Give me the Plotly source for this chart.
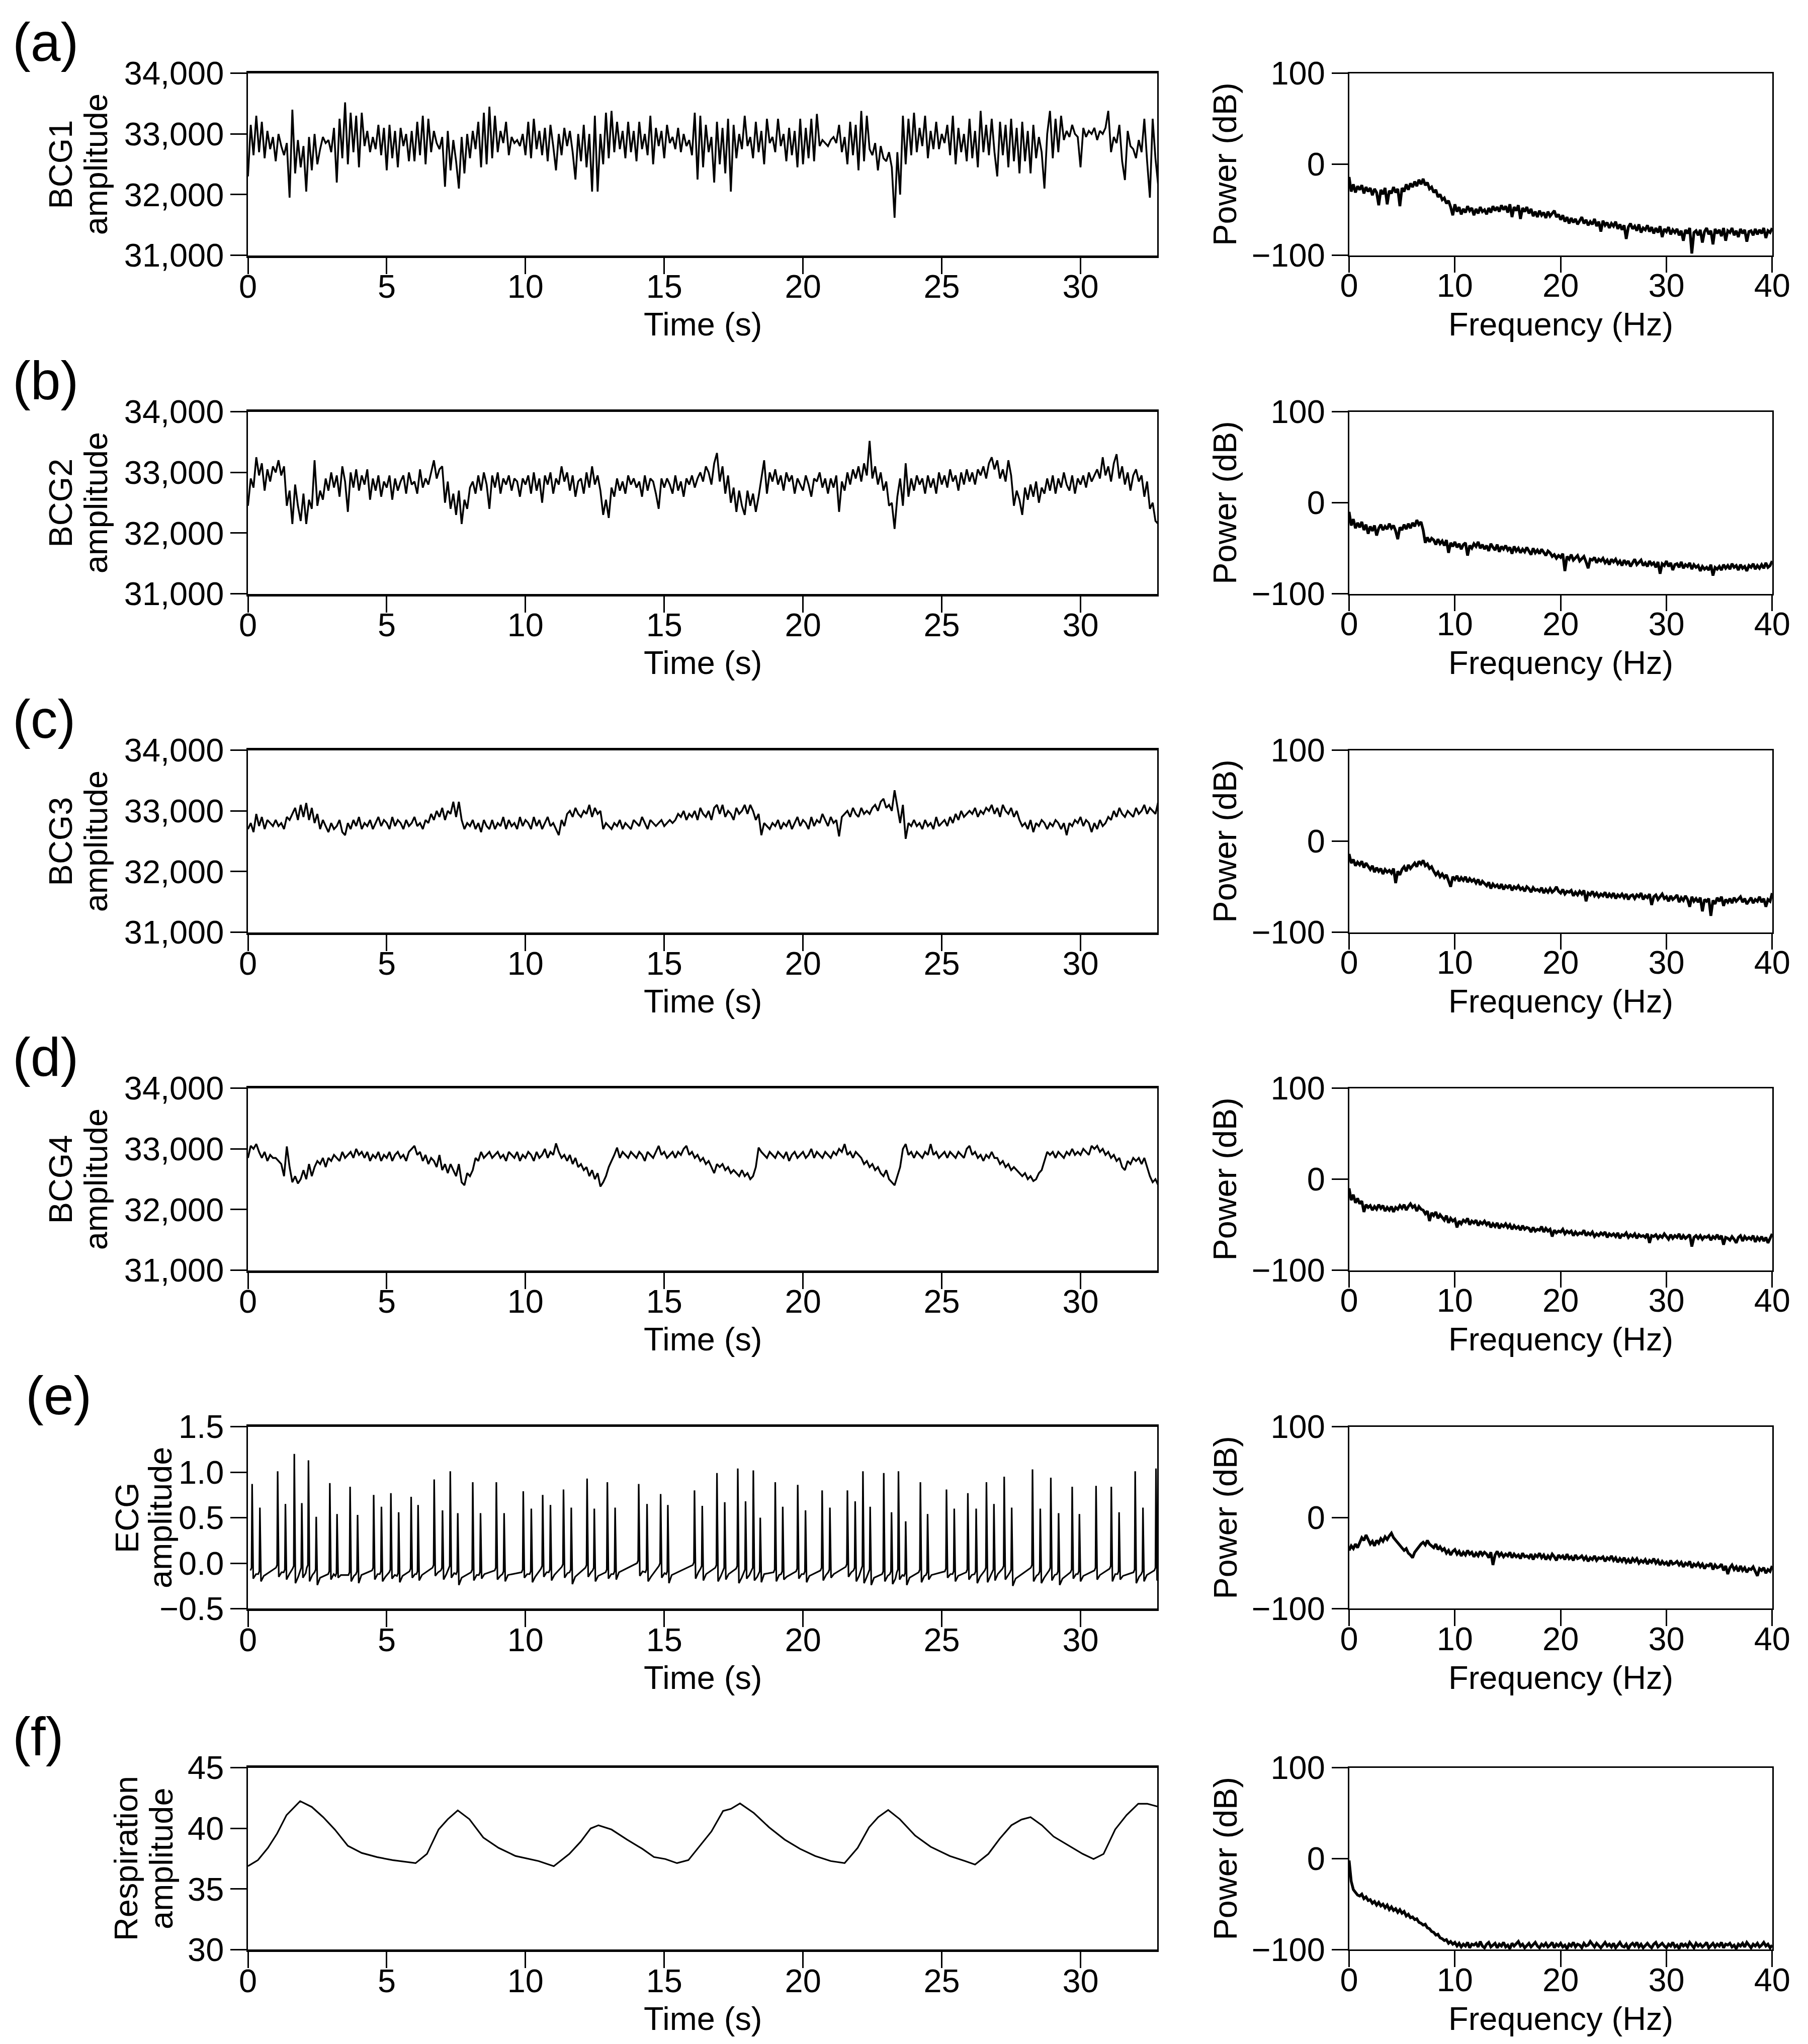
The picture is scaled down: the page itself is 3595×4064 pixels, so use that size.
import plotly.graph_objects as go

W, H = 3595, 4064
FONT = "Liberation Sans, Arial, sans-serif"

# ---------------- data ----------------
bcg_dt = 0.1
bcg1 = [
32300, 33150, 32650, 33300, 32700, 33200, 32600, 33050, 32750, 32950,
32550, 33000, 32800, 32650, 32850, 31950, 33400, 32350, 32900, 32450,
32800, 32050, 32950, 32400, 33000, 32500, 32750, 32950, 32850, 32900,
32700, 33100, 32200, 33250, 32600, 33520, 32500, 33350, 32700, 33300,
32450, 33350, 32800, 33050, 32700, 32950, 32750, 33150, 32650, 33100,
32400, 33150, 32600, 33050, 32450, 33100, 32800, 33000, 32550, 33050,
32550, 33200, 32650, 33300, 32500, 33250, 32700, 33050, 32850, 32750,
32950, 32130, 33050, 32400, 32900, 32550, 32100, 32950, 32350, 33000,
32600, 33050, 32750, 33200, 32450, 33350, 32500, 33450, 32600, 33300,
32700, 33050, 32850, 33200, 32650, 32950, 32850, 32900, 32800, 33000,
32650, 33200, 32600, 33250, 32750, 33050, 32650, 33100, 32550, 33150,
32800, 32400, 33000, 32650, 33100, 32800, 33050, 32700, 32250, 33000,
32550, 33150, 32450, 33000, 32050, 33300, 32050, 33000, 32500, 33350,
32600, 33380, 32700, 33200, 32750, 33050, 32600, 33200, 32700, 33050,
32550, 33200, 32750, 33000, 32650, 33300, 32500, 33100, 32800, 33050,
32600, 33150, 32850, 32950, 32750, 33100, 32700, 33000, 32800, 32900,
32650, 33350, 32250, 33300, 32450, 33150, 32700, 32950, 32200, 33200,
32500, 33100, 32350, 33250, 32050, 33150, 32600, 33000, 32750, 33300,
32800, 32950, 32600, 33200, 32700, 33050, 32500, 33250, 32850, 32950,
32700, 33250, 32800, 33000, 32550, 33100, 32650, 33050, 32450, 33250,
32500, 33100, 32600, 33250, 32550, 33330, 32800, 32900, 32850, 32800,
32900, 32950, 32850, 33150, 32700, 32950, 32500, 33200, 32650, 33150,
32400, 33380, 32550, 33300, 32750, 32650, 32850, 32400, 32800, 32600,
32550, 32700, 32450, 31620, 32700, 32000, 33300, 32500, 33250, 32650,
33350, 32700, 33100, 32800, 33300, 32600, 33050, 32750, 33200, 32750,
33000, 32850, 33150, 32650, 33300, 32500, 33100, 32700, 33000, 32550,
33250, 32600, 33050, 32450, 33380, 32700, 33150, 32650, 33250, 32700,
32300, 33200, 32650, 33150, 32450, 33250, 32550, 33100, 32350, 33200,
32550, 33050, 32350, 33150, 32600, 32950, 32700, 32100, 33000, 33380,
32600, 33250, 32700, 33300, 32900, 33050, 32950, 33150, 33000, 32950,
32450, 33100, 32950, 33050, 33000, 33100, 32900, 33050, 33000, 33100,
33380, 32700, 32950, 32850, 33150, 32550, 32240, 33050, 32800, 32750,
32600, 32900, 32700, 33250, 32550, 31950, 33250, 32600, 32150,
]
bcg2 = [
32450, 32900, 32750, 33250, 32950, 33150, 32700, 33050, 32850, 33100,
33000, 33200, 32950, 33100, 32450, 32700, 32150, 32800, 32450, 32200,
32650, 32150, 32550, 32400, 33200, 32450, 32700, 32550, 32900, 32700,
33000, 32750, 32950, 32600, 33100, 32850, 32350, 33000, 32750, 33050,
32700, 32950, 32800, 33050, 32550, 32900, 32700, 32950, 32600, 32850,
32750, 32950, 32550, 32900, 32700, 32850, 32950, 32650, 33000, 32800,
32850, 32650, 33050, 32750, 32900, 32800, 33000, 33200, 32900, 33050,
33100, 32500, 32850, 32400, 32650, 32300, 32700, 32150, 32550, 32400,
32750, 32850, 32650, 32950, 32700, 33000, 32800, 32400, 32950, 32750,
33000, 32650, 32900, 32800, 32950, 32700, 32900, 32850, 32600, 32900,
32800, 32950, 32650, 33000, 32700, 32900, 32500, 32950, 32800, 33000,
32650, 32900, 32800, 33100, 32850, 33000, 32700, 32950, 32600, 32850,
32900, 32650, 33000, 32750, 33100, 32800, 32950, 32700, 32300, 32550,
32250, 32750, 32600, 32900, 32700, 32850, 32650, 32950, 32800, 32900,
32750, 32850, 32600, 32950, 32700, 32900, 32850, 32650, 32400, 32900,
32750, 32900, 32800, 32650, 32950, 32700, 32850, 32600, 32900, 32800,
32950, 32750, 32900, 33000, 32850, 33100, 33000, 32800, 33150, 33320,
32850, 33100, 32650, 32950, 32500, 32750, 32350, 32700, 32450, 32300,
32700, 32450, 32650, 32350, 32600, 32900, 33200, 32650, 33000, 32850,
33050, 32800, 32950, 32700, 33000, 32850, 32950, 32650, 32900, 32800,
32700, 32950, 32800, 32600, 32900, 32850, 33000, 32750, 32900, 32650,
32900, 32750, 32950, 32350, 32850, 32700, 33000, 32800, 33050, 32900,
33100, 32850, 33150, 32950, 33520, 32900, 33100, 32800, 33000, 32700,
32850, 32450, 32500, 32070, 32600, 32900, 32450, 33150, 32600, 32900,
32700, 32950, 32800, 32900, 32650, 32950, 32750, 32900, 32650, 33000,
32800, 32950, 32750, 33050, 32850, 32950, 32700, 33000, 32800, 33050,
32850, 33000, 32800, 33050, 32950, 33100, 32900, 33150, 33250, 33050,
33200, 32900, 33050, 32850, 33200, 32950, 32450, 32700, 32550, 32300,
32750, 32550, 32800, 32600, 32850, 32500, 32750, 32650, 32900, 32700,
32950, 32650, 32900, 32750, 33000, 32800, 32700, 32950, 32650, 32900,
32800, 32950, 32750, 33000, 32850, 32950, 33050, 32900, 33250, 32950,
33100, 32850, 33150, 33300, 32900, 33100, 32800, 33000, 32700, 32950,
33050, 32850, 32950, 32600, 32850, 32400, 32500, 32200, 32150,
]
bcg3 = [
32700, 32800, 32650, 32950, 32750, 32900, 32700, 32850, 32800, 32750,
32850, 32750, 32800, 32700, 32900, 32850, 32950, 33050, 32850, 33100,
32900, 33130, 32850, 33050, 32800, 32950, 32700, 32850, 32750, 32650,
32800, 32700, 32750, 32850, 32650, 32600, 32800, 32700, 32850, 32750,
32900, 32700, 32800, 32750, 32850, 32700, 32800, 32900, 32750, 32850,
32800, 32700, 32900, 32750, 32850, 32800, 32700, 32850, 32750, 32800,
32900, 32750, 32800, 32700, 32850, 32800, 32950, 32850, 33000, 32900,
33050, 32850, 33000, 32950, 33150, 32900, 33150, 32850, 32700, 32800,
32750, 32850, 32700, 32800, 32650, 32850, 32750, 32700, 32850, 32700,
32800, 32750, 32900, 32700, 32850, 32750, 32800, 32700, 32900, 32750,
32850, 32800, 32700, 32900, 32750, 32850, 32700, 32800, 32900, 32750,
32800, 32700, 32600, 32850, 32750, 32950, 33000, 32900, 33050, 32950,
32900, 33000, 32950, 33100, 32900, 33050, 32950, 33000, 32700, 32800,
32750, 32700, 32800, 32750, 32850, 32700, 32800, 32750, 32700, 32850,
32800, 32750, 32900, 32800, 32700, 32850, 32800, 32750, 32800, 32850,
32750, 32800, 32850, 32800, 32850, 32950, 32900, 33000, 32850, 32950,
32900, 33000, 32850, 33050, 32950, 32900, 33000, 32850, 33050, 33100,
32950, 33100, 32900, 33000, 32950, 32850, 33050, 32950, 33000, 33100,
32950, 33100, 33000, 32850, 32950, 32600, 32800, 32750, 32700, 32800,
32750, 32850, 32700, 32800, 32750, 32850, 32700, 32800, 32900, 32750,
32850, 32800, 32700, 32900, 32750, 32850, 32800, 32950, 32850, 32750,
32900, 32800, 32850, 32580, 32900, 32950, 33000, 32900, 33050, 32950,
32900, 33050, 32950, 33000, 32950, 33050, 33100, 33000, 33150, 33200,
33050, 33100, 33000, 33340, 33050, 32800, 33100, 32540, 32800, 32750,
32850, 32750, 32800, 32700, 32850, 32750, 32800, 32700, 32900, 32750,
32800, 32850, 32750, 32900, 32800, 32950, 32850, 33000, 32900, 32950,
33000, 32950, 33050, 32900, 33000, 32950, 33050, 33000, 33100, 32950,
33050, 32900, 33100, 33000, 32950, 33050, 32900, 33000, 32850, 32750,
32800, 32700, 32850, 32650, 32800, 32750, 32850, 32800, 32700, 32800,
32750, 32850, 32800, 32700, 32800, 32600, 32800, 32750, 32850, 32800,
32900, 32750, 32850, 32800, 32650, 32800, 32700, 32850, 32750, 32800,
32900, 32850, 33000, 32900, 33050, 32950, 32900, 33000, 32950, 32900,
33050, 32950, 33000, 33100, 32950, 33050, 33000, 32950, 33150,
]
bcg4 = [
32850, 33050, 33000, 33080, 32950, 32850, 32950, 32800, 32900, 32850,
32850, 32800, 32750, 32550, 33040, 32700, 32450, 32550, 32430, 32500,
32650, 32500, 32750, 32550, 32700, 32800, 32750, 32850, 32700, 32850,
32800, 32900, 32850, 32800, 32950, 32850, 32900, 32950, 32850, 33000,
32900, 32950, 32850, 32950, 32800, 32900, 32850, 32950, 32800, 32900,
32850, 32950, 32800, 32900, 32950, 32850, 32900, 32800, 32950, 33000,
33050, 32900, 32950, 32800, 32900, 32750, 32850, 32800, 32700, 32900,
32650, 32750, 32600, 32750, 32650, 32550, 32750, 32450, 32400, 32600,
32550, 32650, 32850, 32800, 32950, 32850, 32900, 32950, 32850, 32900,
32950, 32850, 32900, 32800, 32950, 32900, 32850, 32950, 32800, 32900,
32850, 32950, 32900, 32800, 32950, 32850, 32900, 33000, 32850, 32950,
32900, 33090, 32950, 32850, 32900, 32800, 32900, 32750, 32850, 32700,
32750, 32650, 32700, 32550, 32650, 32500, 32600, 32380, 32450, 32550,
32700, 32800, 32900, 33020, 32850, 32950, 32900, 32850, 32950, 32900,
32850, 32950, 32900, 32800, 32950, 32900, 32850, 32950, 33050, 32900,
32950, 32850, 32900, 32950, 32850, 32950, 32900, 33000, 33050, 32900,
32950, 32850, 32900, 32800, 32850, 32750, 32800, 32700, 32600, 32750,
32700, 32750, 32650, 32700, 32600, 32650, 32600, 32550, 32650, 32550,
32600, 32500, 32550, 32700, 33020, 32950, 32900, 32850, 32950, 32900,
32850, 32950, 32900, 32850, 32950, 32800, 32900, 32950, 32850, 32900,
32950, 32850, 32900, 33000, 32850, 32950, 32900, 32850, 32950, 32900,
32850, 32950, 32900, 33000, 32950, 33080, 32900, 32950, 32850, 32950,
32900, 32850, 32750, 32800, 32700, 32750, 32650, 32700, 32600, 32550,
32650, 32500, 32450, 32400, 32550, 32700, 33000, 33080, 32900, 32950,
32850, 32950, 32900, 32850, 32950, 32900, 33080, 32900, 32950, 32850,
32900, 32950, 32850, 32950, 32900, 32850, 32950, 32900, 32850, 33000,
33050, 32900, 32950, 32850, 32900, 32800, 32900, 32850, 32950, 32850,
32850, 32750, 32800, 32700, 32750, 32650, 32700, 32650, 32600, 32550,
32600, 32500, 32550, 32470, 32500, 32600, 32650, 32800, 32950, 32900,
32950, 32850, 32950, 32900, 32850, 32950, 32900, 33000, 32900, 32950,
32900, 33000, 32950, 32900, 33050, 33000, 33050, 32950, 33000, 32900,
32950, 32850, 32900, 32800, 32850, 32700, 32650, 32800, 32750, 32850,
32800, 32850, 32750, 32850, 32700, 32550, 32450, 32500, 32400,
]

# ECG: R-peak times / heights and the baseline just before, just after and between beats
ecg_peak_t = [0.15, 0.43, 1.07, 1.35, 1.67, 1.94, 2.18, 2.46, 2.95, 3.21, 3.68, 3.95,
              4.53, 4.81, 5.15, 5.43, 5.88, 6.13, 6.71, 7.01, 7.29, 7.56, 8.10, 8.38,
              8.95, 9.23, 9.92, 10.21, 10.62, 10.90, 11.37, 11.65, 12.22, 12.48, 12.95, 13.23,
              14.08, 14.38, 14.87, 15.13, 16.09, 16.37, 16.90, 17.18, 17.65, 17.93, 18.21, 18.46,
              19.00, 19.27, 19.81, 20.09, 20.69, 20.97, 21.60, 21.88, 22.16, 22.42, 22.91, 23.19,
              23.44, 23.70, 24.23, 24.49, 25.17, 25.45, 25.94, 26.24, 26.61, 26.88, 27.25, 27.52,
              28.27, 28.55, 28.93, 29.21, 29.70, 29.96, 30.56, 31.11, 31.39, 31.97, 32.25, 32.72]
ecg_peak_v = [0.87, 0.61, 1.01, 0.65, 1.20, 0.66, 1.13, 0.51, 0.88, 0.54, 0.84, 0.53,
              0.75, 0.62, 0.77, 0.56, 0.73, 0.64, 0.92, 0.58, 1.01, 0.55, 0.89, 0.55,
              0.89, 0.55, 0.79, 0.60, 0.75, 0.64, 0.81, 0.61, 0.93, 0.60, 0.89, 0.61,
              0.87, 0.65, 0.76, 0.64, 0.80, 0.63, 0.99, 0.67, 1.04, 0.68, 1.02, 0.50,
              0.89, 0.62, 0.86, 0.58, 0.80, 0.61, 0.80, 0.68, 1.01, 0.62, 0.99, 0.56,
              1.01, 0.46, 0.89, 0.54, 0.81, 0.60, 0.77, 0.60, 0.89, 0.65, 0.95, 0.61,
              1.03, 0.60, 0.94, 0.55, 0.84, 0.54, 0.85, 0.84, 0.56, 1.01, 0.61, 1.04]
ecg_pre_v = [-0.08, -0.12, -0.05, -0.10, -0.06, -0.08, -0.05, -0.10, -0.12, -0.14, -0.13, -0.12,
             -0.08, -0.12, -0.10, -0.14, -0.09, -0.12, -0.05, -0.08, -0.06, -0.12, -0.10, -0.13,
             -0.08, -0.12, -0.10, -0.12, -0.06, -0.10, -0.04, -0.10, -0.05, -0.08, -0.10, -0.12,
             0.00, -0.10, -0.03, -0.12, -0.02, -0.06, -0.05, -0.08, -0.06, -0.10, -0.08, -0.12,
             -0.10, -0.12, -0.09, -0.12, -0.08, -0.10, -0.04, -0.08, -0.06, -0.10, -0.12, -0.12,
             -0.10, -0.14, -0.10, -0.13, -0.09, -0.12, -0.10, -0.12, -0.08, -0.10, -0.06, -0.10,
             -0.05, -0.12, -0.08, -0.12, -0.10, -0.12, -0.08, -0.06, -0.12, -0.10, -0.12, -0.08]
ecg_post_v = [-0.17, -0.20, -0.15, -0.18, -0.22, -0.16, -0.20, -0.24, -0.18, -0.16, -0.20, -0.22,
              -0.18, -0.20, -0.17, -0.21, -0.16, -0.19, -0.14, -0.18, -0.16, -0.24, -0.19, -0.17,
              -0.18, -0.20, -0.16, -0.21, -0.15, -0.19, -0.16, -0.23, -0.15, -0.20, -0.17, -0.18,
              -0.14, -0.20, -0.16, -0.22, -0.17, -0.19, -0.20, -0.18, -0.22, -0.17, -0.19, -0.21,
              -0.20, -0.18, -0.17, -0.21, -0.19, -0.16, -0.15, -0.20, -0.22, -0.24, -0.20, -0.23,
              -0.18, -0.24, -0.21, -0.18, -0.16, -0.20, -0.18, -0.22, -0.21, -0.19, -0.18, -0.25,
              -0.20, -0.22, -0.19, -0.24, -0.17, -0.20, -0.18, -0.20, -0.18, -0.22, -0.20, -0.19]
ecg_mid_v = [-0.12, -0.14, -0.10, -0.12, -0.15, -0.11, -0.13, -0.16, -0.12, -0.13, -0.14, -0.13,
             -0.12, -0.15, -0.13, -0.14, -0.12, -0.13, -0.10, -0.12, -0.11, -0.16, -0.13, -0.12,
             -0.14, -0.13, -0.12, -0.15, -0.10, -0.13, -0.11, -0.15, -0.10, -0.14, -0.12, -0.10,
             -0.09, -0.15, -0.11, -0.13, -0.10, -0.12, -0.14, -0.12, -0.16, -0.13, -0.15, -0.12,
             -0.13, -0.15, -0.12, -0.14, -0.13, -0.12, -0.10, -0.14, -0.15, -0.16, -0.14, -0.17,
             -0.13, -0.16, -0.14, -0.13, -0.12, -0.14, -0.13, -0.15, -0.14, -0.12, -0.13, -0.17,
             -0.14, -0.16, -0.13, -0.17, -0.12, -0.14, -0.13, -0.12, -0.14, -0.15, -0.13, -0.12]

resp_t = [0.0, 0.36, 0.72, 1.05, 1.39, 1.88, 2.30, 2.71, 3.13, 3.60, 4.10, 4.65, 5.21, 6.04,
          6.45, 6.87, 7.20, 7.56, 7.98, 8.48, 9.03, 9.64, 10.47, 11.02, 11.58, 11.99, 12.35,
          12.63, 13.10, 13.66, 14.21, 14.63, 15.04, 15.46, 15.87, 16.29, 16.70, 17.12, 17.40,
          17.73, 18.23, 18.78, 19.34, 19.89, 20.44, 21.00, 21.50, 21.97, 22.38, 22.71, 23.07,
          23.49, 24.04, 24.60, 25.29, 25.84, 26.20, 26.68, 27.09, 27.51, 27.87, 28.20, 28.61,
          29.03, 29.58, 30.08, 30.47, 30.83, 31.25, 31.66, 32.08, 32.41, 32.77]
resp_v = [36.88, 37.38, 38.39, 39.57, 41.09, 42.24, 41.76, 40.92, 39.90, 38.56, 37.97, 37.63,
          37.38, 37.13, 37.89, 39.91, 40.75, 41.48, 40.75, 39.24, 38.39, 37.72, 37.30, 36.88,
          37.89, 38.90, 39.99, 40.25, 39.90, 39.07, 38.31, 37.63, 37.47, 37.13, 37.38, 38.56,
          39.74, 41.43, 41.60, 42.05, 41.26, 40.08, 39.07, 38.31, 37.72, 37.30, 37.13, 38.39,
          40.08, 40.92, 41.51, 40.75, 39.40, 38.48, 37.72, 37.30, 37.01, 37.89, 39.15, 40.25,
          40.72, 40.92, 40.25, 39.32, 38.56, 37.89, 37.47, 37.89, 39.91, 41.09, 42.02, 42.02, 41.80]

psd_df = 0.2
psd_bcg1 = [
-14, -30, -22, -31, -24, -28, -23, -32, -25, -30, -26, -34, -27, -31, -45,
-28, -33, -26, -44, -29, -32, -25, -31, -27, -46, -26, -30, -22, -28, -21,
-25, -19, -24, -17, -22, -16, -23, -20, -27, -25, -31, -28, -36, -33, -39,
-37, -43, -40, -47, -56, -44, -52, -47, -55, -49, -53, -46, -51, -48, -56,
-49, -54, -47, -52, -50, -55, -48, -53, -46, -51, -47, -52, -45, -50, -46,
-53, -44, -58, -47, -51, -45, -60, -48, -52, -47, -54, -49, -57, -52, -58,
-51, -56, -53, -59, -52, -57, -54, -51, -58, -55, -61, -56, -63, -58, -65,
-59, -64, -60, -66, -62, -58, -65, -61, -67, -63, -66, -60, -68, -63, -74,
-62, -67, -64, -70, -65, -68, -63, -71, -66, -72, -67, -82, -69, -65, -71,
-68, -73, -66, -75, -70, -72, -67, -74, -69, -76, -70, -75, -68, -80, -71,
-74, -69, -77, -72, -75, -71, -78, -73, -84, -72, -76, -70, -98, -75, -73,
-78, -72, -86, -74, -70, -77, -73, -88, -71, -76, -72, -79, -70, -84, -73,
-75, -70, -78, -73, -80, -71, -76, -72, -85, -74, -73, -78, -71, -77, -72,
-76, -70, -81, -73, -75, -70]
psd_bcg2 = [
-10, -25, -18, -28, -22, -27, -21, -30, -24, -34, -26, -31, -25, -36, -28,
-24, -30, -26, -29, -23, -28, -25, -31, -40, -27, -30, -24, -29, -23, -28,
-22, -26, -19, -24, -21, -30, -44, -38, -43, -39, -41, -46, -40, -45, -42,
-47, -41, -55, -44, -48, -43, -49, -45, -51, -46, -44, -58, -47, -50, -45,
-48, -43, -50, -46, -51, -47, -53, -45, -49, -52, -46, -54, -48, -51, -47,
-52, -49, -56, -48, -53, -50, -55, -51, -54, -49, -53, -57, -50, -55, -52,
-56, -51, -54, -58, -53, -55, -59, -57, -61, -58, -60, -56, -75, -59, -62,
-57, -63, -60, -58, -64, -61, -59, -65, -72, -62, -63, -60, -66, -62, -64,
-61, -66, -63, -68, -62, -65, -62, -67, -64, -69, -63, -67, -64, -70, -66,
-62, -68, -65, -63, -69, -66, -70, -64, -68, -66, -71, -65, -78, -67, -69,
-64, -70, -66, -74, -68, -67, -71, -65, -72, -68, -70, -66, -73, -68, -71,
-69, -75, -70, -73, -71, -74, -68, -80, -71, -73, -70, -74, -68, -72, -69,
-73, -67, -71, -69, -74, -68, -72, -70, -75, -69, -71, -67, -73, -69, -72,
-68, -72, -66, -71, -69, -64]
psd_bcg3 = [
-14, -24, -20, -27, -23, -26, -22, -29, -24, -28, -31, -27, -34, -29, -33,
-30, -36, -31, -34, -32, -35, -30, -46, -33, -37, -31, -28, -33, -26, -30,
-27, -24, -28, -22, -25, -21, -27, -25, -30, -28, -33, -37, -34, -39, -36,
-40, -37, -43, -50, -39, -42, -38, -44, -40, -43, -39, -45, -41, -44, -42,
-46, -42, -48, -44, -47, -49, -45, -52, -47, -50, -48, -52, -47, -53, -49,
-51, -48, -54, -50, -52, -49, -53, -51, -55, -50, -52, -56, -51, -54, -53,
-55, -51, -57, -53, -56, -52, -56, -54, -50, -55, -57, -53, -58, -55, -56,
-54, -60, -56, -59, -55, -58, -54, -66, -57, -59, -55, -60, -57, -61, -58,
-60, -56, -62, -58, -61, -57, -63, -59, -61, -58, -62, -58, -64, -60, -59,
-63, -59, -61, -57, -64, -60, -62, -58, -70, -61, -59, -64, -61, -58, -63,
-61, -66, -60, -64, -62, -59, -67, -62, -65, -60, -64, -72, -61, -66, -63,
-67, -62, -77, -64, -66, -63, -82, -65, -69, -62, -66, -61, -71, -64, -67,
-63, -68, -62, -66, -64, -61, -67, -63, -69, -65, -62, -68, -64, -66, -61,
-67, -63, -72, -64, -66, -57]
psd_bcg4 = [
-10, -23, -17, -26, -21, -27, -24, -36, -28, -31, -29, -34, -30, -33, -28,
-32, -29, -35, -31, -34, -30, -36, -31, -33, -29, -32, -28, -34, -30, -27,
-31, -29, -35, -30, -33, -34, -38, -35, -46, -37, -40, -36, -43, -39, -42,
-45, -40, -48, -43, -46, -44, -53, -46, -49, -45, -47, -43, -50, -46, -48,
-45, -51, -47, -49, -46, -50, -47, -53, -49, -52, -48, -54, -50, -52, -49,
-53, -50, -55, -51, -54, -52, -56, -51, -55, -53, -54, -58, -53, -57, -55,
-56, -52, -58, -54, -57, -55, -63, -56, -59, -57, -58, -55, -60, -57, -59,
-57, -62, -58, -61, -59, -60, -56, -62, -59, -61, -58, -63, -60, -62, -59,
-61, -58, -64, -60, -62, -60, -63, -59, -65, -61, -62, -59, -64, -61, -63,
-60, -65, -61, -63, -62, -64, -60, -70, -62, -63, -61, -65, -62, -64, -60,
-63, -66, -61, -65, -62, -64, -60, -66, -62, -65, -63, -61, -74, -64, -62,
-65, -62, -66, -63, -64, -62, -67, -63, -65, -61, -66, -62, -72, -64, -65,
-67, -63, -66, -70, -64, -62, -68, -63, -66, -64, -66, -62, -69, -64, -67,
-63, -68, -64, -70, -65, -60]
psd_ecg = [
-36, -31, -34, -29, -33, -27, -22, -25, -19, -24, -29, -26, -31, -25, -28,
-23, -26, -21, -24, -20, -17, -22, -25, -27, -30, -33, -36, -34, -39, -41,
-44, -38, -35, -31, -29, -27, -30, -25, -29, -31, -33, -29, -35, -32, -36,
-34, -39, -36, -41, -37, -35, -40, -37, -42, -38, -41, -36, -40, -38, -43,
-39, -42, -37, -41, -38, -40, -44, -38, -52, -41, -37, -42, -39, -43, -40,
-42, -38, -44, -40, -43, -41, -45, -39, -43, -42, -44, -40, -46, -41, -43,
-39, -44, -41, -46, -42, -45, -40, -43, -47, -41, -44, -42, -46, -40, -45,
-43, -47, -41, -45, -44, -42, -46, -43, -48, -44, -46, -42, -47, -44, -45,
-43, -48, -44, -46, -42, -47, -44, -49, -45, -48, -44, -49, -46, -50, -45,
-48, -45, -50, -47, -49, -46, -51, -47, -49, -45, -50, -47, -52, -48, -51,
-49, -53, -47, -51, -50, -48, -52, -49, -54, -50, -52, -48, -55, -51, -53,
-50, -54, -51, -56, -52, -53, -50, -57, -52, -55, -54, -51, -58, -53, -62,
-55, -52, -57, -54, -59, -53, -58, -55, -60, -56, -57, -54, -59, -64, -56,
-58, -55, -61, -57, -59, -53]
psd_resp = [
-2, -25, -34, -37, -40, -41, -39, -44, -42, -46, -45, -49, -47, -51, -48,
-52, -50, -54, -51, -56, -53, -57, -55, -59, -56, -60, -58, -63, -61, -65,
-64, -67, -66, -70, -71, -73, -72, -76, -77, -80, -81, -84, -83, -87, -88,
-90, -89, -93, -91, -94, -92, -96, -93, -97, -94, -96, -92, -98, -94, -95,
-93, -97, -91, -96, -98, -94, -92, -97, -95, -93, -98, -94, -96, -92, -97,
-95, -99, -93, -96, -94, -91, -96, -94, -98, -95, -93, -97, -95, -92, -96,
-98, -94, -96, -93, -97, -95, -92, -98, -94, -96, -93, -97, -95, -99, -94,
-96, -92, -97, -94, -95, -98, -93, -96, -95, -91, -94, -97, -93, -96, -98,
-95, -92, -96, -94, -97, -93, -98, -95, -92, -96, -97, -94, -99, -95, -93,
-96, -92, -97, -94, -98, -95, -93, -96, -98, -94, -92, -97, -95, -93, -96,
-98, -94, -96, -92, -97, -95, -99, -93, -96, -94, -97, -92, -95, -98, -93,
-96, -94, -97, -95, -92, -98, -95, -93, -97, -94, -96, -92, -98, -94, -95,
-93, -97, -95, -99, -94, -96, -93, -97, -92, -95, -98, -94, -96, -93, -97,
-95, -92, -96, -94, -98, -95]

time_ticks = [0, 5, 10, 15, 20, 25, 30]
freq_ticks = [0, 10, 20, 30, 40]
t_max = 32.77
panel_labels = ["(a)", "(b)", "(c)", "(d)", "(e)", "(f)"]
left_titles = [("BCG1", "amplitude"), ("BCG2", "amplitude"), ("BCG3", "amplitude"),
               ("BCG4", "amplitude"), ("ECG", "amplitude"), ("Respiration", "amplitude")]

# ---------------- build ECG polyline ----------------
ecg_t, ecg_v = [], []
for tp, vp, pre, post, mid in zip(ecg_peak_t, ecg_peak_v, ecg_pre_v, ecg_post_v, ecg_mid_v):
    ecg_t += [tp - 0.06, tp - 0.02, tp, tp + 0.04, tp + 0.14]
    ecg_v += [pre, pre + 0.03, vp, post, mid]

def tgrid(vals, dt):
    return [round(i * dt, 4) for i in range(len(vals))]

left_series = [
    (tgrid(bcg1, bcg_dt), bcg1), (tgrid(bcg2, bcg_dt), bcg2), (tgrid(bcg3, bcg_dt), bcg3),
    (tgrid(bcg4, bcg_dt), bcg4), (ecg_t, ecg_v), (resp_t, resp_v)]
right_series = [psd_bcg1, psd_bcg2, psd_bcg3, psd_bcg4, psd_ecg, psd_resp]

# ---------------- layout geometry (target pixels in the picture) ----------------
row_tops = [143, 818, 1493, 2167, 2842, 3522]
row_h = 363
L_X0, L_X1 = 493, 2305
R_X0, R_X1 = 2687, 3530

# the photographed page comes out slightly scaled/shifted; compensate
SX, SY = 0.987, 0.985
OX, OY = 25, 41
FS = 1 / 0.986

def px(x):
    return ((x - OX) / SX) / W

def py(y):
    return 1 - ((y - OY) / SY) / H

def fsz(s):
    return round(s * FS, 1)

fig = go.Figure()
layout = dict(width=W, height=H, margin=dict(l=0, r=0, t=0, b=0),
              paper_bgcolor="white", plot_bgcolor="white", showlegend=False,
              font=dict(family=FONT, size=fsz(64), color="black"))
annotations = []

tick_font = dict(family=FONT, size=fsz(64), color="black")
title_font = dict(family=FONT, size=fsz(64), color="black")

def axis_common():
    return dict(showline=True, linecolor="black", mirror=True, ticks="outside",
                ticklen=32, tickwidth=2.5, tickcolor="black", showgrid=False,
                zeroline=False, tickfont=tick_font)

left_y = [
    dict(range=[31000, 34000], tickvals=[31000, 32000, 33000, 34000], tickformat=",d"),
    dict(range=[31000, 34000], tickvals=[31000, 32000, 33000, 34000], tickformat=",d"),
    dict(range=[31000, 34000], tickvals=[31000, 32000, 33000, 34000], tickformat=",d"),
    dict(range=[31000, 34000], tickvals=[31000, 32000, 33000, 34000], tickformat=",d"),
    dict(range=[-0.5, 1.5], tickvals=[-0.5, 0, 0.5, 1.0, 1.5], tickformat=".1f"),
    dict(range=[30, 45], tickvals=[30, 35, 40, 45]),
]
ytitle_x = [(120, 190), (120, 190), (120, 190), (120, 190), (252, 318), (250, 320)]

for r in range(6):
    top = row_tops[r]
    bot = top + row_h
    ydom = [py(bot), py(top)]
    nl, nr = 2 * r + 1, 2 * r + 2
    sl = "" if nl == 1 else str(nl)
    sr = str(nr)

    xl = axis_common(); xl.update(domain=[px(L_X0), px(L_X1)], range=[0, t_max],
                                  tickvals=time_ticks, linewidth=5, anchor="y" + sl,
                                  ticklabelstandoff=-30)
    yl = axis_common(); yl.update(domain=ydom, linewidth=2.5, anchor="x" + sl, **left_y[r])
    xr = axis_common(); xr.update(domain=[px(R_X0), px(R_X1)], range=[0, 40],
                                  tickvals=freq_ticks, linewidth=2.5, anchor="y" + sr,
                                  ticklabelstandoff=-30)
    yr = axis_common(); yr.update(domain=ydom, range=[-100, 100], tickvals=[-100, 0, 100],
                                  linewidth=2.5, anchor="x" + sr)
    layout["xaxis" + sl] = xl
    layout["yaxis" + sl] = yl
    layout["xaxis" + sr] = xr
    layout["yaxis" + sr] = yr

    tx, ty = left_series[r]
    fig.add_trace(go.Scatter(x=tx, y=ty, mode="lines",
                             line=dict(color="black", width=3.6 if r < 4 else 3.2),
                             xaxis="x" + sl, yaxis="y" + sl, hoverinfo="skip"))
    ps = right_series[r]
    fig.add_trace(go.Scatter(x=tgrid(ps, psd_df), y=ps, mode="lines",
                             line=dict(color="black", width=5.5),
                             xaxis="x" + sr, yaxis="y" + sr, hoverinfo="skip"))

    # panel label
    annotations.append(dict(text=panel_labels[r], x=px(22 if r != 4 else 48), y=py(top - 62),
                            xref="paper", yref="paper", xanchor="left", yanchor="middle",
                            showarrow=False, font=dict(family=FONT, size=fsz(106), color="black")))
    # y titles (two lines)
    ymid = py(top + row_h / 2)
    l1, l2 = left_titles[r]
    for txt, xc in zip((l1, l2), ytitle_x[r]):
        annotations.append(dict(text=txt, x=px(xc), y=ymid, xref="paper", yref="paper",
                                xanchor="center", yanchor="middle", textangle=-90,
                                showarrow=False, font=title_font))
    annotations.append(dict(text="Power (dB)", x=px(2440), y=ymid, xref="paper", yref="paper",
                            xanchor="center", yanchor="middle", textangle=-90,
                            showarrow=False, font=title_font))
    # x titles
    annotations.append(dict(text="Time (s)", x=px((L_X0 + L_X1) / 2), y=py(bot + 137),
                            xref="paper", yref="paper", xanchor="center", yanchor="middle",
                            showarrow=False, font=title_font))
    annotations.append(dict(text="Frequency (Hz)", x=px((R_X0 + R_X1) / 2), y=py(bot + 137),
                            xref="paper", yref="paper", xanchor="center", yanchor="middle",
                            showarrow=False, font=title_font))

layout["annotations"] = annotations
fig.update_layout(**layout)
fig.write_html("out.html")
